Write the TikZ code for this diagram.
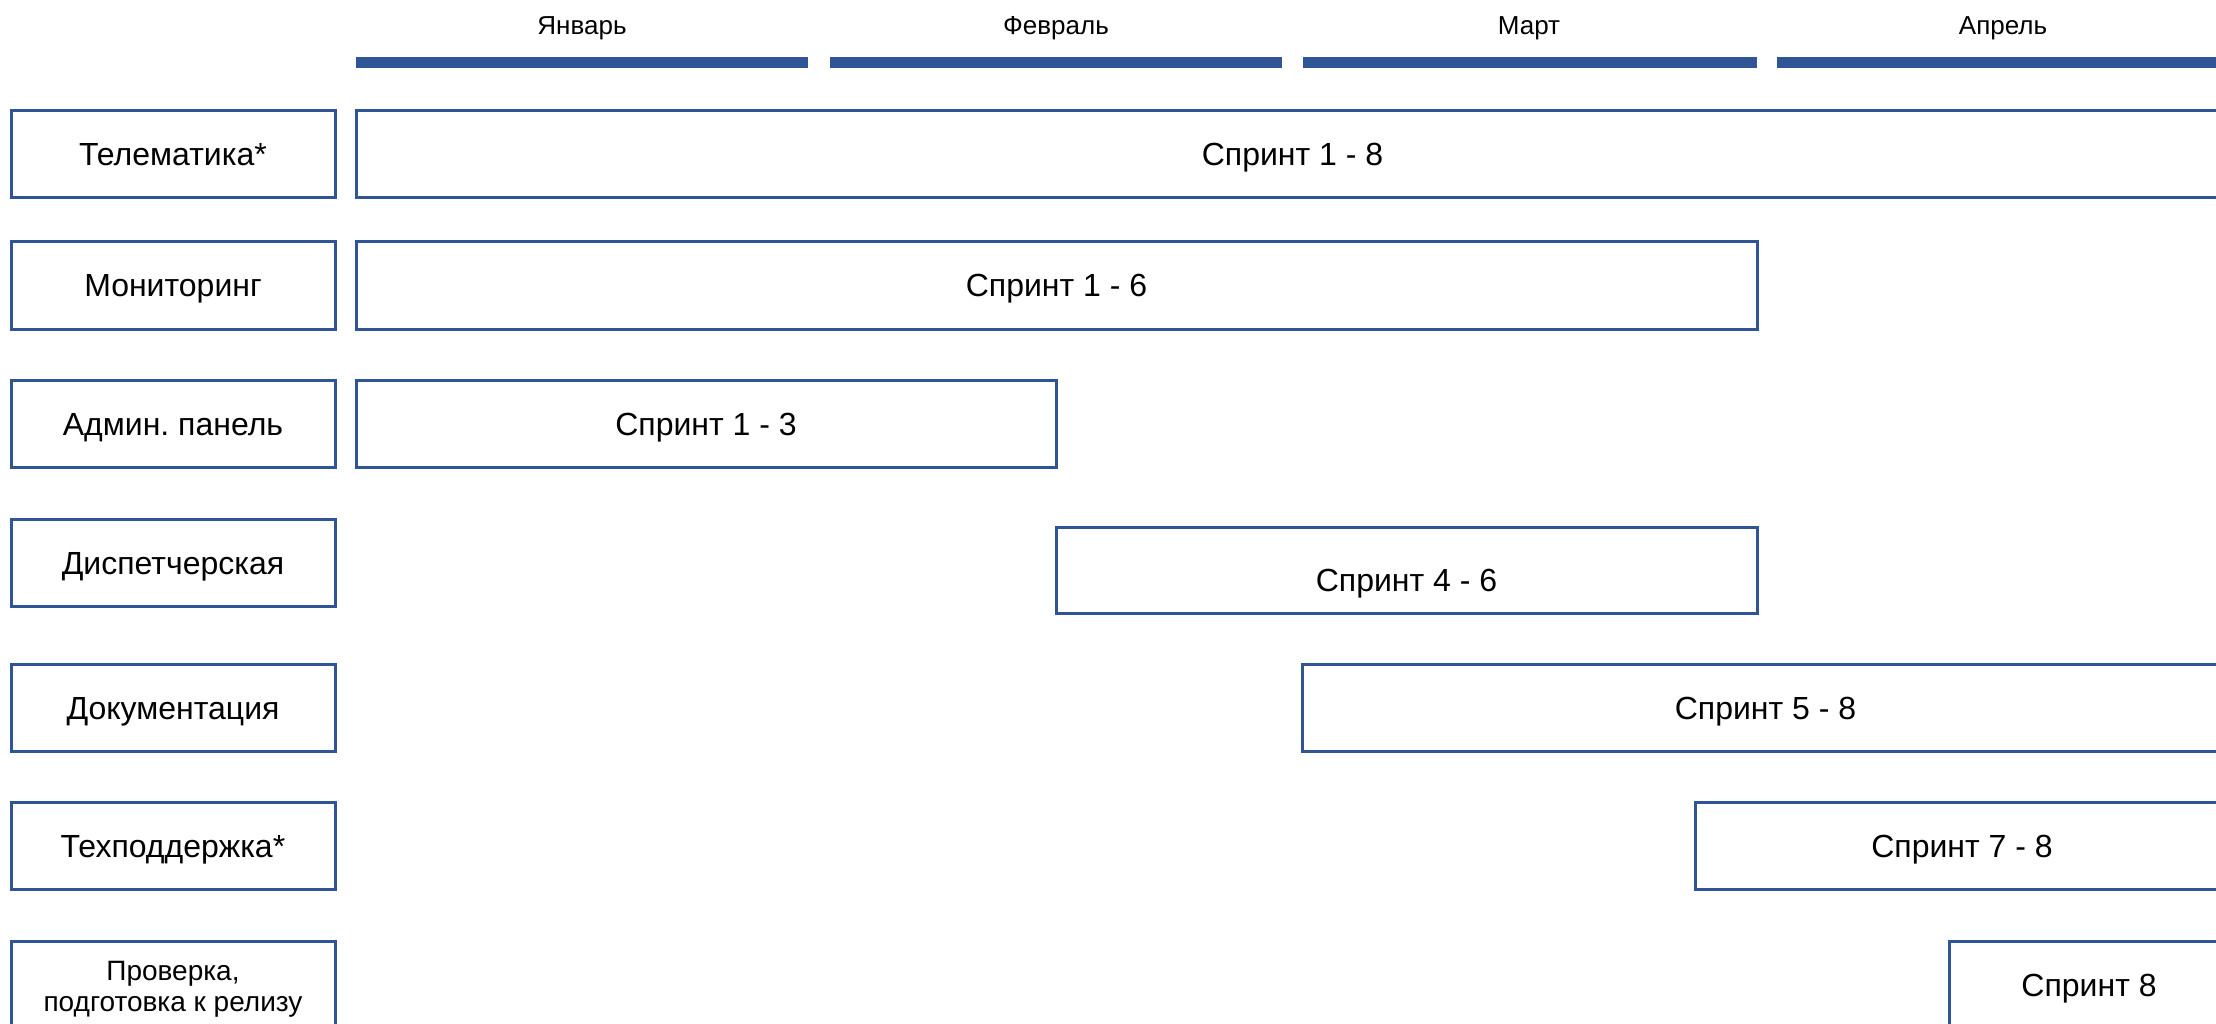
\documentclass[tikz,border=0pt]{standalone}
\usepackage{fontspec}
\setmainfont{Liberation Sans}
\frenchspacing
\definecolor{accent}{HTML}{2F5597}
\tikzset{
  mlabel/.style={font=\fontsize{26}{30}\selectfont, text=black, inner sep=0pt},
  barfill/.style={fill=accent, draw=none},
  rowbox/.style={draw=accent, line width=3pt, fill=white, inner sep=0pt, align=center,
                 font=\fontsize{32}{36}\selectfont, text=black, text height=23pt, text depth=0pt},
  smallbox/.style={draw=accent, line width=3pt, fill=white, inner sep=0pt, align=center,
                 font=\fontsize{28}{31}\selectfont, text=black, text height=60pt, text depth=7pt}
}
\begin{document}
\frenchspacing
\begin{tikzpicture}[x=1pt, y=-1pt]
\clip (0,0) rectangle (2216,1024);
\fill[white] (0,0) rectangle (2216,1024);
% months
\node[mlabel] (m1) at (582,28) {Январь};
\node[mlabel] (m2) at (1056,28) {Февраль};
\node[mlabel] (m3) at (1529,28) {Март};
\node[mlabel] (m4) at (2003,28) {Апрель};
\fill[barfill] (356,57) rectangle (808,68);
\fill[barfill] (830,57) rectangle (1282,68);
\fill[barfill] (1303,57) rectangle (1757,68);
\fill[barfill] (1777,57) rectangle (2229,68);
% row labels
\node[rowbox, minimum width=324pt, minimum height=87pt] (l1) at (173,154.5) {Телематика*};
\node[rowbox, minimum width=324pt, minimum height=87pt] (l2) at (173,285.5) {Мониторинг};
\node[rowbox, minimum width=324pt, minimum height=87pt] (l3) at (173,424) {Админ. панель};
\node[rowbox, minimum width=324pt, minimum height=87pt] (l4) at (173,562.5) {Диспетчерская};
\node[rowbox, minimum width=324pt, minimum height=87pt] (l5) at (173,708) {Документация};
\node[rowbox, minimum width=324pt, minimum height=87pt] (l6) at (173,845.5) {Техподдержка*};
\node[smallbox, minimum width=324pt, minimum height=87pt] (l7) at (173,984.5) {Проверка,\\подготовка к релизу};
% sprints
\node[rowbox, minimum width=1873pt, minimum height=87pt] (s1) at (1292.5,154.5) {Спринт 1 - 8};
\node[rowbox, minimum width=1401pt, minimum height=87pt] (s2) at (1056.5,285.5) {Спринт 1 - 6};
\node[rowbox, minimum width=700pt, minimum height=87pt] (s3) at (706,424) {Спринт 1 - 3};
\node[rowbox, minimum width=701pt, minimum height=86pt] (s4) at (1406.5,570) {\raisebox{-10pt}{Спринт 4 - 6}};
\node[rowbox, minimum width=927pt, minimum height=87pt] (s5) at (1765.5,708) {Спринт 5 - 8};
\node[rowbox, minimum width=534pt, minimum height=87pt] (s6) at (1962,845.5) {Спринт 7 - 8};
\node[rowbox, minimum width=280pt, minimum height=87pt] (s7) at (2089,984.5) {Спринт 8};
\end{tikzpicture}
\end{document}
